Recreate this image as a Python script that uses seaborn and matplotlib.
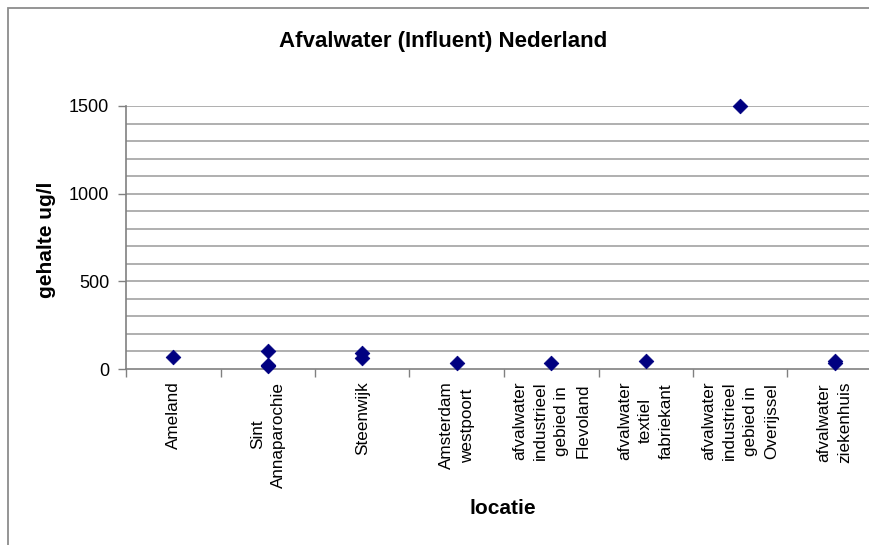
import matplotlib
matplotlib.use("Agg")
import matplotlib.pyplot as plt
from matplotlib.patches import Rectangle
from matplotlib.ticker import FixedLocator, NullFormatter
import numpy as np
import pandas as pd
import seaborn as sns

# Locations (x-axis categories) and measured contents in ug/l
locaties = [
    "Ameland",
    "Sint\nAnnaparochie",
    "Steenwijk",
    "Amsterdam\nwestpoort",
    "afvalwater\nindustrieel\ngebied in\nFlevoland",
    "afvalwater\ntextiel\nfabriekant",
    "afvalwater\nindustrieel\ngebied in\nOverijssel",
    "afvalwater\nziekenhuis",
]
meting_locatie = [0, 1, 1, 1, 2, 2, 3, 4, 5, 6, 7, 7]
gehalte = [68, 100, 25, 15, 90, 65, 33, 35, 45, 1500, 45, 35]

y_ticks = [0, 500, 1000, 1500]

sns.set_theme(style="white")
plt.rcParams["font.family"] = ["Liberation Sans", "DejaVu Sans"]
plt.rcParams["text.color"] = "black"
plt.rcParams["xtick.color"] = "black"
plt.rcParams["ytick.color"] = "black"

df = pd.DataFrame({
    "pos": np.array(meting_locatie) + 0.5,
    "gehalte": gehalte,
})

W, H = 870, 545
fig = plt.figure(figsize=(W / 100, H / 100), dpi=100)
fig.patch.set_facecolor("white")

# outer chart frame (left and top edges visible)
fig.patches.append(Rectangle((8 / W, -0.05), 1.2, 1.05 - 8 / H,
                             transform=fig.transFigure, fill=False,
                             edgecolor="#8c8c8c", lw=1.3, zorder=0))

left, right, top, bottom = 126, 882, 106, 369
ax = fig.add_axes([left / W, 1 - bottom / H, (right - left) / W, (bottom - top) / H])
ax.set_facecolor("white")

sns.scatterplot(data=df, x="pos", y="gehalte", ax=ax, marker="D", s=55,
                color="#000080", edgecolor="#000080", linewidth=0.6,
                clip_on=False, zorder=5, legend=False)

ax.set_xlim(0, len(locaties))
ax.set_ylim(0, 1500)

# horizontal grid every 100
for v in range(100, 1501, 100):
    ax.axhline(v, color="#9a9a9a", lw=1.1, zorder=1)

ax.set_yticks(y_ticks)
ax.set_yticklabels([str(t) for t in y_ticks], fontsize=13)
ax.yaxis.set_minor_locator(FixedLocator(range(100, 1500, 100)))
ax.tick_params(axis="y", which="major", length=6, width=1, color="#808080",
               direction="out", pad=6, left=True, labelcolor="black")
ax.tick_params(axis="y", which="minor", length=0)

# category boundary ticks, labels centred between them
ax.set_xticks(range(len(locaties) + 1))
ax.xaxis.set_major_formatter(NullFormatter())
ax.set_xticks(np.arange(len(locaties)) + 0.5, minor=True)
ax.set_xticklabels(locaties, minor=True, rotation=90, fontsize=12.3,
                   va="top", ha="center", multialignment="center",
                   linespacing=1.5)
ax.tick_params(axis="x", which="major", length=6, width=1, color="#808080",
               direction="out", bottom=True)
ax.tick_params(axis="x", which="minor", length=0, pad=9, labelcolor="black")

for side in ["top", "right"]:
    ax.spines[side].set_visible(False)
for side in ["left", "bottom"]:
    ax.spines[side].set_color("#808080")
    ax.spines[side].set_linewidth(1.2)

ax.set_xlabel("")
ax.set_ylabel("")

fig.text(443 / W, 1 - 42 / H, "Afvalwater (Influent) Nederland",
         ha="center", va="center", fontsize=16, fontweight="bold")
fig.text(503 / W, 1 - 508 / H, "locatie", ha="center", va="center",
         fontsize=15, fontweight="bold")
fig.text(47 / W, 1 - 240 / H, "gehalte ug/l", ha="center", va="center",
         rotation=90, fontsize=15, fontweight="bold")

fig.savefig("out.png", dpi=100, facecolor="white")
